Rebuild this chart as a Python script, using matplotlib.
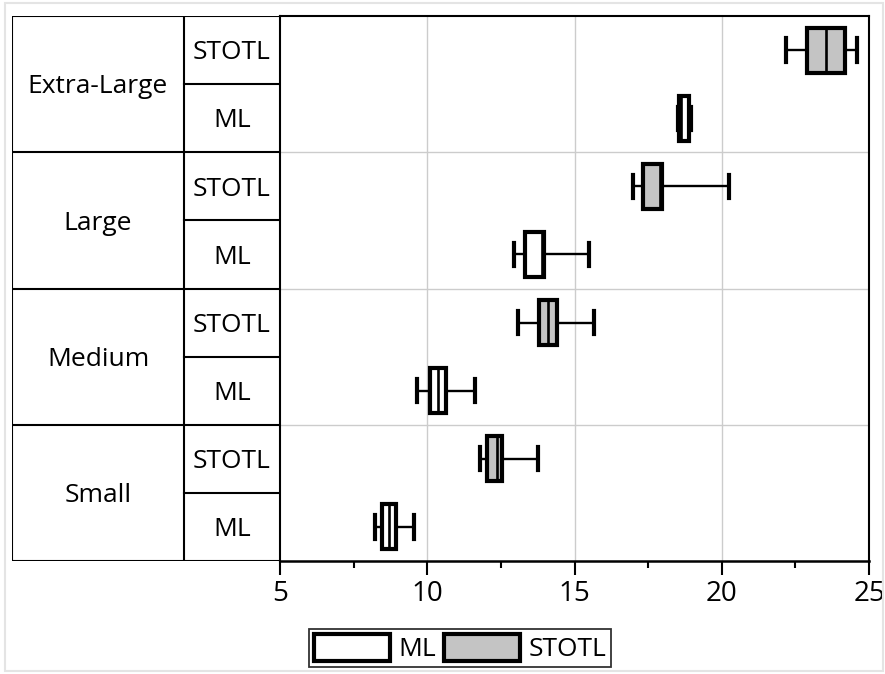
import matplotlib.pyplot as plt
from matplotlib.patches import Patch, Rectangle

plt.rcParams['font.family'] = ['Open Sans', 'DejaVu Sans']

# groups from bottom to top
groups = ['Small', 'Medium', 'Large', 'Extra-Large']
methods = ['ML', 'STOTL']

# whislo, q1, med, q3, whishi
ml_stats = [
    (8.22, 8.48, 8.71, 8.93, 9.55),
    (9.64, 10.09, 10.35, 10.62, 11.62),
    (12.96, 13.32, 13.90, 13.97, 15.49),
    (18.50, 18.55, 18.63, 18.90, 18.95),
]
stotl_stats = [
    (11.80, 12.02, 12.38, 12.54, 13.77),
    (13.09, 13.80, 14.11, 14.42, 15.66),
    (16.97, 17.31, 17.90, 17.97, 20.23),
    (22.18, 22.88, 23.53, 24.20, 24.60),
]
method_colors = {'ML': 'white', 'STOTL': '#c4c4c4'}
xticks = [5, 10, 15, 20, 25]

W, H = 885, 674
fig = plt.figure(figsize=(W / 100, H / 100), dpi=100)

fig.patches.append(Rectangle((5 / W, 3 / H), 878 / W, 668 / H, transform=fig.transFigure,
                             fill=False, edgecolor='#e4e4e4', lw=1.5))

left, right, top, bottom = 280, 869, 16, 561
ax = fig.add_axes([left / W, 1 - bottom / H, (right - left) / W, (bottom - top) / H])
tab = fig.add_axes([12 / W, 1 - bottom / H, (left - 12) / W, (bottom - top) / H])

def to_stats(vals):
    lo, q1, med, q3, hi = vals
    return dict(whislo=lo, q1=q1, med=med, q3=q3, whishi=hi, fliers=[])

for m, stats in [('ML', ml_stats), ('STOTL', stotl_stats)]:
    off = 0 if m == 'ML' else 1
    pos = [2 * i + off for i in range(len(groups))]
    ax.bxp([to_stats(s) for s in stats], positions=pos, vert=False, widths=0.66,
           showfliers=False, patch_artist=True,
           boxprops=dict(facecolor=method_colors[m], edgecolor='black', lw=3),
           medianprops=dict(color='black', lw=1.9),
           whiskerprops=dict(color='black', lw=1.7),
           capprops=dict(color='black', lw=3), capwidths=0.34)

ax.set_ylim(-0.5, 7.5)
ax.set_xlim(5, 25)
ax.set_yticks([])
ax.set_xticks(xticks)
ax.set_xticks([7.5, 12.5, 17.5, 22.5], minor=True)
ax.tick_params(axis='x', which='major', length=10, width=1.5, labelsize=20, pad=4)
ax.tick_params(axis='x', which='minor', length=5, width=1.5)
for x in xticks[1:-1]:
    ax.axvline(x, color='#cccccc', lw=1, zorder=0)
for y in [1.5, 3.5, 5.5]:
    ax.axhline(y, color='#cccccc', lw=1, zorder=0)
for s in ax.spines.values():
    s.set_linewidth(1.5)
ax.spines['bottom'].set_linewidth(1.8)

# category table on the left
tw = left - 12
split = 172
tab.set_xlim(0, tw)
tab.set_ylim(-0.5, 7.5)
tab.axis('off')
lk = dict(color='black', lw=1.5)
tab.plot([0, tw], [7.5, 7.5], **lk)
tab.plot([0, tw], [-0.5, -0.5], **lk)
tab.plot([0, 0], [-0.5, 7.5], **lk)
tab.plot([split, split], [-0.5, 7.5], **lk)
for y in [1.5, 3.5, 5.5]:
    tab.plot([0, tw], [y, y], **lk)
for y in [0.5, 2.5, 4.5, 6.5]:
    tab.plot([split, tw], [y, y], **lk)
for i, g in enumerate(groups):
    tab.text(split / 2, 2 * i + 0.46, g, ha='center', va='center', fontsize=19)
    for j, m in enumerate(methods):
        tab.text((split + tw) / 2, 2 * i + j - 0.04, m, ha='center', va='center', fontsize=19)

handles = [Patch(facecolor=method_colors[m], edgecolor='black', lw=3, label=m) for m in methods]
leg = fig.legend(handles=handles, loc='center', bbox_to_anchor=(460 / W, 1 - 648 / H), ncol=2,
                 fontsize=19, frameon=True, fancybox=False, edgecolor='black',
                 handlelength=2.9, handleheight=1.2, handletextpad=0.3, columnspacing=0.3,
                 borderpad=0.18, borderaxespad=0)
leg.get_frame().set_linewidth(1.3)

fig.savefig('out.png', dpi=100)
